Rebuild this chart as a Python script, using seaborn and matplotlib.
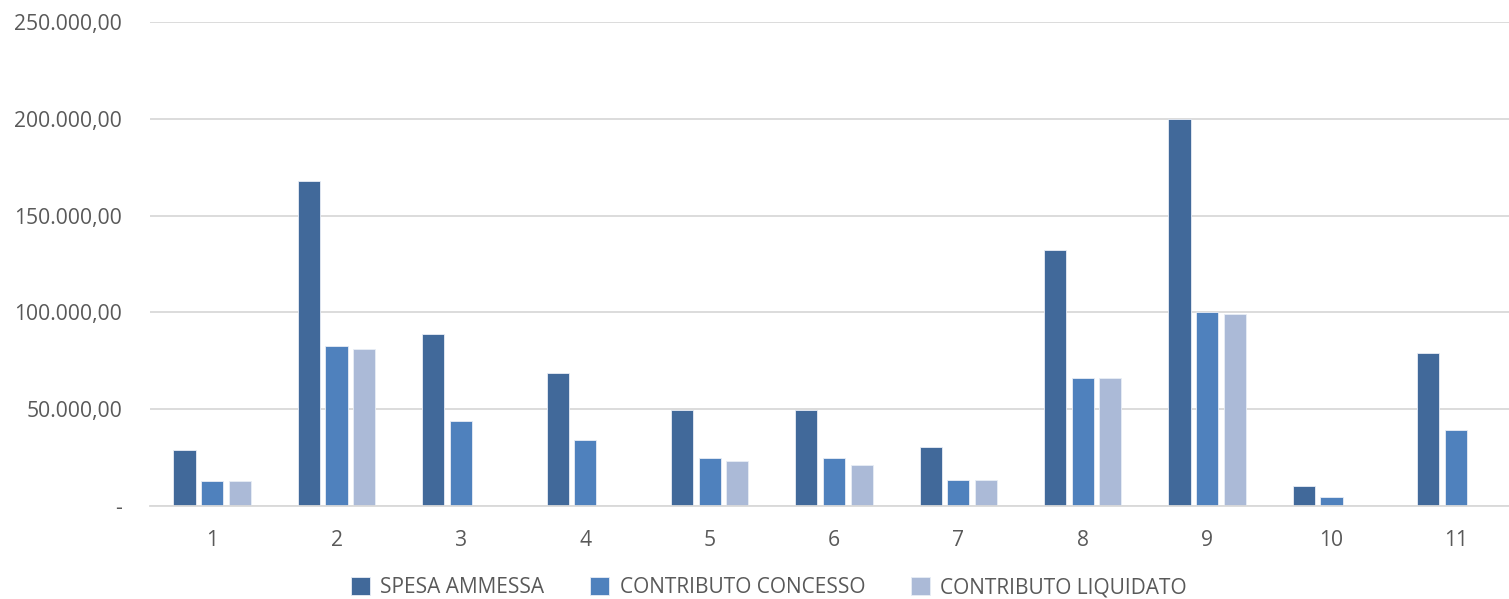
import pandas as pd
import numpy as np
import matplotlib
matplotlib.use('Agg')
import matplotlib.pyplot as plt
import matplotlib.ticker as mticker
import seaborn as sns

categories = ['1', '2', '3', '4', '5', '6', '7', '8', '9', '10', '11']
spesa_ammessa = [28900, 168050, 88700, 68460, 49640, 49700, 30240, 132260, 200000, 10200, 79200]
contributo_concesso = [12970, 82470, 43930, 34230, 24740, 24740, 13310, 66030, 99950, 4500, 39400]
contributo_liquidato = [12970, 80910, 0, 0, 23340, 21270, 13310, 66030, 99220, 0, 0]
series_names = ['SPESA AMMESSA', 'CONTRIBUTO CONCESSO', 'CONTRIBUTO LIQUIDATO']
colors = ['#41699A', '#4F81BD', '#ABBAD7']

df = pd.DataFrame({
    'Categoria': categories * 3,
    'Serie': np.repeat(series_names, len(categories)),
    'Valore': spesa_ammessa + contributo_concesso + contributo_liquidato,
})

sns.set_theme(style='white')
plt.rcParams['font.family'] = ['Open Sans', 'DejaVu Sans']

fig = plt.figure(figsize=(15.09, 5.99), dpi=100)
ax = fig.add_axes([150 / 1509, (599 - 506) / 599, 1368 / 1509, 484 / 599])

sns.barplot(data=df, x='Categoria', y='Valore', hue='Serie', palette=colors,
            saturation=1, width=0.667, gap=0.2, ax=ax,
            edgecolor='#E8EDF5', linewidth=0.6, legend=True)

ax.set_ylim(0, 250000)
ax.set_xlim(-0.5, 10.5)
ax.yaxis.set_major_locator(mticker.MultipleLocator(50000))


def it_fmt(v, pos):
    if v == 0:
        return '-'
    s = f'{v:,.2f}'
    return s.replace(',', 'X').replace('.', ',').replace('X', '.')


ax.yaxis.set_major_formatter(mticker.FuncFormatter(it_fmt))
ax.grid(axis='y', color='#D9D9D9', linewidth=1.3)
ax.set_axisbelow(True)
for side in ['top', 'right', 'left']:
    ax.spines[side].set_visible(False)
ax.spines['bottom'].set_color('#D9D9D9')
ax.spines['bottom'].set_linewidth(1.3)
ax.tick_params(axis='both', length=0, colors='#595959', labelsize=15.2)
ax.tick_params(axis='y', pad=20)
ax.tick_params(axis='x', pad=17)
ax.set_xlabel('')
ax.set_ylabel('')

handles, labels = ax.get_legend_handles_labels()
ax.legend(handles, labels, loc='center', bbox_to_anchor=((769 - 150) / 1368, -0.169),
          ncol=3, frameon=False, fontsize=15, labelcolor='#595959',
          handlelength=0.9, handleheight=0.9, handletextpad=0.5, columnspacing=2.2)

fig.savefig('out.png', dpi=100)
